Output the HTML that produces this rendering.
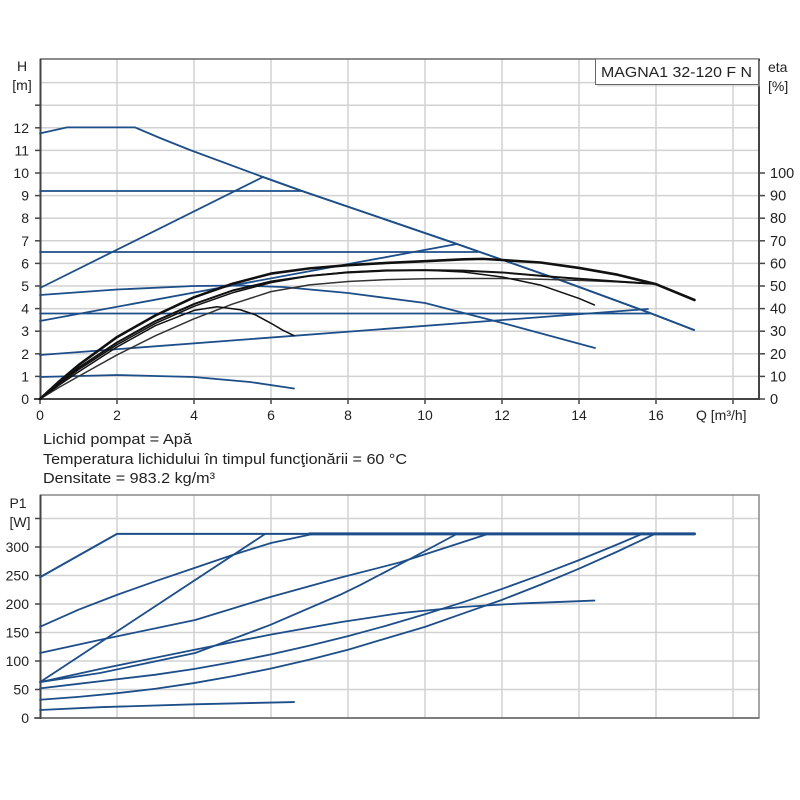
<!DOCTYPE html>
<html>
<head>
<meta charset="utf-8">
<style>
html,body{margin:0;padding:0;background:#fff;}
svg{display:block;}
text{font-family:"Liberation Sans",Arial,sans-serif;fill:#222;}
.t{font-size:14px;}
.g line{stroke:#d2d2d2;stroke-width:1.5;}
.b{fill:none;stroke:#1d4e89;stroke-width:1.8;stroke-linejoin:round;stroke-linecap:round;}
.k{fill:none;stroke:#111;stroke-width:1.5;stroke-linejoin:round;stroke-linecap:round;}
.d polyline{vector-effect:non-scaling-stroke;}
</style>
</head>
<body>
<svg width="800" height="800" viewBox="0 0 800 800" xmlns="http://www.w3.org/2000/svg">
<rect width="800" height="800" fill="#fff"/>

<!-- ===== TOP CHART GRID ===== -->
<g class="g">
  <line x1="117" y1="59" x2="117" y2="399"/>
  <line x1="194" y1="59" x2="194" y2="399"/>
  <line x1="271" y1="59" x2="271" y2="399"/>
  <line x1="348" y1="59" x2="348" y2="399"/>
  <line x1="425" y1="59" x2="425" y2="399"/>
  <line x1="502" y1="59" x2="502" y2="399"/>
  <line x1="579" y1="59" x2="579" y2="399"/>
  <line x1="656" y1="59" x2="656" y2="399"/>
  <line x1="733" y1="59" x2="733" y2="399"/>
  <line x1="40" y1="376.4" x2="759" y2="376.4"/>
  <line x1="40" y1="353.8" x2="759" y2="353.8"/>
  <line x1="40" y1="331.2" x2="759" y2="331.2"/>
  <line x1="40" y1="308.6" x2="759" y2="308.6"/>
  <line x1="40" y1="286" x2="759" y2="286"/>
  <line x1="40" y1="263.4" x2="759" y2="263.4"/>
  <line x1="40" y1="240.8" x2="759" y2="240.8"/>
  <line x1="40" y1="218.2" x2="759" y2="218.2"/>
  <line x1="40" y1="195.6" x2="759" y2="195.6"/>
  <line x1="40" y1="173" x2="759" y2="173"/>
  <line x1="40" y1="150.4" x2="759" y2="150.4"/>
  <line x1="40" y1="127.8" x2="759" y2="127.8"/>
  <line x1="40" y1="105.2" x2="759" y2="105.2"/>
  <line x1="40" y1="82.6" x2="759" y2="82.6"/>
</g>
<!-- frame -->
<rect x="40.5" y="59" width="718.5" height="340" fill="none" stroke="#666" stroke-width="1.5"/>
<line x1="40.5" y1="59" x2="40.5" y2="400" stroke="#444" stroke-width="2"/>
<line x1="759" y1="59" x2="759" y2="400" stroke="#444" stroke-width="2"/>
<line x1="34" y1="399" x2="760" y2="399" stroke="#444" stroke-width="2"/>

<!-- left ticks -->
<g stroke="#444" stroke-width="1.5">
  <line x1="35" y1="399" x2="41" y2="399"/>
  <line x1="35" y1="376.4" x2="41" y2="376.4"/>
  <line x1="35" y1="353.8" x2="41" y2="353.8"/>
  <line x1="35" y1="331.2" x2="41" y2="331.2"/>
  <line x1="35" y1="308.6" x2="41" y2="308.6"/>
  <line x1="35" y1="286" x2="41" y2="286"/>
  <line x1="35" y1="263.4" x2="41" y2="263.4"/>
  <line x1="35" y1="240.8" x2="41" y2="240.8"/>
  <line x1="35" y1="218.2" x2="41" y2="218.2"/>
  <line x1="35" y1="195.6" x2="41" y2="195.6"/>
  <line x1="35" y1="173" x2="41" y2="173"/>
  <line x1="35" y1="150.4" x2="41" y2="150.4"/>
  <line x1="35" y1="127.8" x2="41" y2="127.8"/>
  <line x1="35" y1="105.2" x2="41" y2="105.2"/>
  <!-- right ticks -->
  <line x1="759" y1="399" x2="765" y2="399"/>
  <line x1="759" y1="376.4" x2="765" y2="376.4"/>
  <line x1="759" y1="353.8" x2="765" y2="353.8"/>
  <line x1="759" y1="331.2" x2="765" y2="331.2"/>
  <line x1="759" y1="308.6" x2="765" y2="308.6"/>
  <line x1="759" y1="286" x2="765" y2="286"/>
  <line x1="759" y1="263.4" x2="765" y2="263.4"/>
  <line x1="759" y1="240.8" x2="765" y2="240.8"/>
  <line x1="759" y1="218.2" x2="765" y2="218.2"/>
  <line x1="759" y1="195.6" x2="765" y2="195.6"/>
  <line x1="759" y1="173" x2="765" y2="173"/>
  <!-- bottom ticks -->
  <line x1="40" y1="399" x2="40" y2="404"/>
  <line x1="117" y1="399" x2="117" y2="404"/>
  <line x1="194" y1="399" x2="194" y2="404"/>
  <line x1="271" y1="399" x2="271" y2="404"/>
  <line x1="348" y1="399" x2="348" y2="404"/>
  <line x1="425" y1="399" x2="425" y2="404"/>
  <line x1="502" y1="399" x2="502" y2="404"/>
  <line x1="579" y1="399" x2="579" y2="404"/>
  <line x1="656" y1="399" x2="656" y2="404"/>
  <line x1="733" y1="399" x2="733" y2="404"/>
</g>

<!-- left labels -->
<g class="t" text-anchor="end">
  <text x="29" y="404">0</text>
  <text x="29" y="381.4">1</text>
  <text x="29" y="358.8">2</text>
  <text x="29" y="336.2">3</text>
  <text x="29" y="313.6">4</text>
  <text x="29" y="291">5</text>
  <text x="29" y="268.4">6</text>
  <text x="29" y="245.8">7</text>
  <text x="29" y="223.2">8</text>
  <text x="29" y="200.6">9</text>
  <text x="29" y="178">10</text>
  <text x="29" y="155.4">11</text>
  <text x="29" y="132.8">12</text>
</g>
<text class="t" x="22" y="71" text-anchor="middle">H</text>
<text class="t" x="22" y="90" text-anchor="middle">[m]</text>
<!-- right labels -->
<g class="t" text-anchor="start" style="font-size:14.5px">
  <text x="770" y="404">0</text>
  <text x="770" y="381.4">10</text>
  <text x="770" y="358.8">20</text>
  <text x="770" y="336.2">30</text>
  <text x="770" y="313.6">40</text>
  <text x="770" y="291">50</text>
  <text x="770" y="268.4">60</text>
  <text x="770" y="245.8">70</text>
  <text x="770" y="223.2">80</text>
  <text x="770" y="200.6">90</text>
  <text x="770" y="178">100</text>
</g>
<text class="t" x="768" y="72">eta</text>
<text class="t" x="768" y="91">[%]</text>
<!-- bottom labels -->
<g class="t" text-anchor="middle">
  <text x="40" y="420">0</text>
  <text x="117" y="420">2</text>
  <text x="194" y="420">4</text>
  <text x="271" y="420">6</text>
  <text x="348" y="420">8</text>
  <text x="425" y="420">10</text>
  <text x="502" y="420">12</text>
  <text x="579" y="420">14</text>
  <text x="656" y="420">16</text>
</g>
<text class="t" x="696" y="420">Q [m³/h]</text>

<!-- legend -->
<rect x="597" y="61" width="163" height="25.5" fill="#bbb" opacity="0.5"/>
<rect x="595.5" y="59" width="163" height="25.5" fill="#fff" stroke="#666" stroke-width="1"/>
<text x="601" y="77" style="font-size:15px" textLength="151" lengthAdjust="spacingAndGlyphs">MAGNA1 32-120 F N</text>

<!-- ===== TOP BLUE CURVES (pixel coords) ===== -->
<polyline class="b" stroke-width="2" points="40,133.4 67,127.4 135,127.4 160,138 190,150 263,177 302,191 457,244 560,280 650,313 694,330"/>
<polyline class="b" stroke-width="3" points="263,177 302,191 457,244 560,280 650,313 694,330"/>
<polyline class="b" stroke-width="2" points="40,191 302,191"/>
<polyline class="b" stroke-width="2" points="40,252 478,252"/>
<polyline class="b" stroke-width="2" points="40,313.5 650,313.5"/>
<polyline class="b" points="40,288 263,177"/>
<polyline class="b" points="40,321 457,244"/>
<polyline class="b" points="40,355 648,309"/>
<polyline class="b" points="40,295 117,289.5 194,286 240,285.5 283,287 348,293 425,303 510,325 595,348"/>
<polyline class="b" points="40,377 117,375 194,377 250,382 294,388.5"/>

<!-- ===== TOP BLACK CURVES (data coords) ===== -->
<g class="d" transform="translate(40,399) scale(38.5,-22.6)">
  <polyline class="k" points="0,0 0.5,0.52 1,1.0 2,1.95 3,2.8 4,3.55 5,4.2 6,4.75 7,5.05 8,5.2 9,5.28 10,5.32 11,5.33 12,5.33 13,5.3 14,5.25 15,5.18 15.9,5.1" style="stroke:#333"/>
  <polyline class="k" points="0,0 0.5,0.62 1,1.2 2,2.3 3,3.25 4,3.92 4.6,4.08 5.2,3.95 5.6,3.72 6.0,3.35 6.3,3.05 6.6,2.8"/>
  <polyline class="k" points="0,0 0.5,0.68 1,1.3 2,2.4 3,3.35 4,4.1 5,4.7 6,5.15 7,5.45 8,5.62 9,5.7 10,5.7 11,5.62 12,5.4 13,5.04 14,4.45 14.4,4.16"/>
  <polyline class="k" points="0,0 0.5,0.72 1,1.38 2,2.5 3,3.45 4,4.2 5,4.8 6,5.2 7,5.45 8,5.6 9,5.68 10,5.7 11,5.68 12,5.6 13.5,5.38 15,5.2 15.9,5.1" style="stroke-width:2"/>
  <polyline class="k" points="0,0 0.5,0.78 1,1.5 2,2.74 3,3.7 4,4.5 5,5.1 6,5.55 7,5.78 8,5.92 9,6.02 10,6.1 11,6.18 11.5,6.2 12,6.15 13,6.04 14,5.8 15,5.5 16,5.08 17,4.38" style="stroke-width:2.6"/>
</g>

<!-- ===== TEXT BLOCK ===== -->
<g style="font-size:15px">
  <text x="43" y="444" fill="#333" textLength="149" lengthAdjust="spacingAndGlyphs">Lichid pompat = Apă</text>
  <text x="43" y="464" fill="#333" textLength="364" lengthAdjust="spacingAndGlyphs">Temperatura lichidului în timpul funcţionării = 60 °C</text>
  <text x="43" y="483" fill="#333" textLength="172" lengthAdjust="spacingAndGlyphs">Densitate = 983.2 kg/m³</text>
</g>

<!-- ===== BOTTOM CHART ===== -->
<g class="g">
  <line x1="117" y1="495" x2="117" y2="718"/>
  <line x1="194" y1="495" x2="194" y2="718"/>
  <line x1="271" y1="495" x2="271" y2="718"/>
  <line x1="348" y1="495" x2="348" y2="718"/>
  <line x1="425" y1="495" x2="425" y2="718"/>
  <line x1="502" y1="495" x2="502" y2="718"/>
  <line x1="579" y1="495" x2="579" y2="718"/>
  <line x1="656" y1="495" x2="656" y2="718"/>
  <line x1="733" y1="495" x2="733" y2="718"/>
  <line x1="40" y1="689.5" x2="759" y2="689.5"/>
  <line x1="40" y1="661" x2="759" y2="661"/>
  <line x1="40" y1="632.5" x2="759" y2="632.5"/>
  <line x1="40" y1="604" x2="759" y2="604"/>
  <line x1="40" y1="575.5" x2="759" y2="575.5"/>
  <line x1="40" y1="547" x2="759" y2="547"/>
  <line x1="40" y1="518.5" x2="759" y2="518.5"/>
</g>
<rect x="40.5" y="495" width="718.5" height="223" fill="none" stroke="#888" stroke-width="1.5"/>
<line x1="40.5" y1="495" x2="40.5" y2="719" stroke="#444" stroke-width="2"/>
<line x1="34" y1="718" x2="759" y2="718" stroke="#666" stroke-width="1.5"/>
<g stroke="#444" stroke-width="1.5">
  <line x1="35" y1="718" x2="41" y2="718"/>
  <line x1="35" y1="689.5" x2="41" y2="689.5"/>
  <line x1="35" y1="661" x2="41" y2="661"/>
  <line x1="35" y1="632.5" x2="41" y2="632.5"/>
  <line x1="35" y1="604" x2="41" y2="604"/>
  <line x1="35" y1="575.5" x2="41" y2="575.5"/>
  <line x1="35" y1="547" x2="41" y2="547"/>
  <line x1="35" y1="518.5" x2="41" y2="518.5"/>
</g>
<g class="t" text-anchor="end">
  <text x="29" y="723">0</text>
  <text x="29" y="694.5">50</text>
  <text x="29" y="666">100</text>
  <text x="29" y="637.5">150</text>
  <text x="29" y="609">200</text>
  <text x="29" y="580.5">250</text>
  <text x="29" y="552">300</text>
</g>
<text class="t" x="18" y="508" text-anchor="middle">P1</text>
<text class="t" x="20" y="527" text-anchor="middle">[W]</text>

<g class="d" transform="translate(40,718) scale(38.5,-0.57)">
  <polyline class="b" points="0,247 2,323 17,323" style="stroke-width:2"/>
  <polyline class="b" points="7,323 17,323" style="stroke-width:3"/>
  <polyline class="b" points="0,160 1,190 2,216 3,240 4,263 5,286 6,307 7.1,323"/>
  <polyline class="b" points="0,114 1.56,137 4.03,172 5.97,212 7.79,246 9.35,273 10.5,298 11.64,323"/>
  <polyline class="b" points="0,63 5.85,323"/>
  <polyline class="b" points="0,63 1.56,79 4.03,114 5.97,163 7.79,216 8.31,233 9.5,275 10.83,323"/>
  <polyline class="b" points="0,63 1.56,86 4.03,120 5.97,146 7.79,168 9.35,184 11,195 12.5,201 14.4,206"/>
  <polyline class="b" points="0,52 1,60 2,68 3,76 4,86 5,98 6,111.6 7,127 8,143.7 9,162 10,182 11,203.4 12,226.4 13,251 14,277 15,304.6 15.64,323"/>
  <polyline class="b" points="0,32 1,37 2,43.5 3,51.3 4,61.3 5,73.2 6,86.9 7,102.4 8,119.8 9,139.9 10,159.9 11,183.7 12,207.3 13,233.8 14,262 15,292.1 15.97,323"/>
  <polyline class="b" points="0,14 1.56,19 4,24 6.6,28"/>
</g>
</svg>
</body>
</html>
